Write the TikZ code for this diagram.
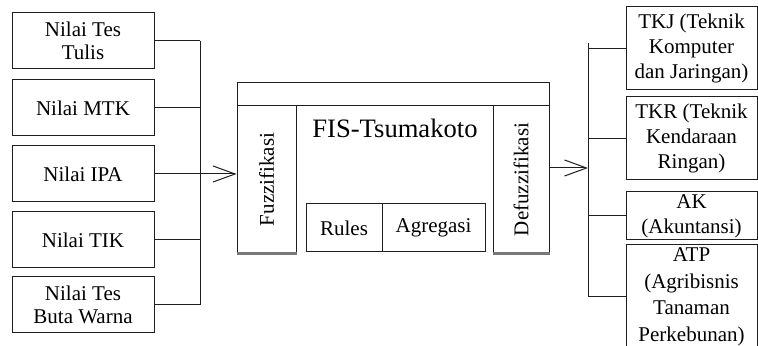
\documentclass[tikz,border=0pt]{standalone}
\usepackage{fontspec}
\setmainfont{Liberation Serif}
\usepackage{tikz}
\usetikzlibrary{positioning, arrows.meta}
\definecolor{fisline}{RGB}{30, 30, 30}
\definecolor{fisshade}{RGB}{120, 120, 120}
\tikzset{
    inbox/.style={rectangle, draw=fisline, line width=0.5pt, minimum width=71pt, minimum height=28pt, inner sep=1pt, align=center, font=\fontsize{10.5}{11.5}\selectfont},
    outbox/.style={rectangle, draw=fisline, line width=0.5pt, minimum width=65.5pt, inner sep=1pt, align=center, font=\fontsize{10.5}{12.5}\selectfont},
    fisbox/.style={rectangle, draw=fisline, line width=0.5pt, inner sep=0pt, font=\fontsize{10.5}{12}\selectfont},
    wire/.style={draw=fisline, line width=0.5pt},
    shade/.style={draw=fisshade, line width=1.3pt}
}

\begin{document}
\begin{tikzpicture}[x=0.5pt, y=-0.5pt]
                    \useasboundingbox (0,0) rectangle (758,346);
                    \clip (0,0) rectangle (758,346);

                    % inputs
                    \node[inbox] (tulis) at (83,41) {Nilai Tes\\Tulis};
                    \node[inbox] (mtk) at (83,108) {Nilai MTK};
                    \node[inbox] (ipa) at (83,174) {Nilai IPA};
                    \node[inbox] (tik) at (83,240) {Nilai TIK};
                    \node[inbox] (buta) at (83,305) {Nilai Tes\\Buta Warna};

                    % FIS block
                    \node[fisbox, minimum width=156pt, minimum height=11.5pt] (bar) at (393,94.5) {};
                    \node[fisbox, minimum width=29.5pt, minimum height=73.5pt] (fuzz) at (266.5,179.5) {};
                    \node[fisbox, minimum width=28pt, minimum height=73.5pt] (defuzz) at (521,179.5) {};
                    \node[fisbox, minimum width=38pt, minimum height=24pt] (rules) at (344,228) {Rules};
                    \node[fisbox, minimum width=51.5pt, minimum height=24pt] (agregasi) at (433.5,228) {Agregasi};
                    \node[rotate=90, font=\fontsize{10.5}{12}\selectfont] (fuzztxt) at (fuzz) {Fuzzifikasi};
                    \node[rotate=90, font=\fontsize{10.5}{12}\selectfont] (defuzztxt) at (defuzz) {Defuzzifikasi};
                    \node[font=\fontsize{13.3}{15}\selectfont] (fis) at (395,128) {FIS-Tsumakoto};
                    \draw[shade] (fuzz.south west) -- (fuzz.south east);
                    \draw[shade] (defuzz.south west) -- (defuzz.south east);

                    % outputs
                    \node[outbox, minimum height=41.5pt] (tkj) at (691.5,48.5) {TKJ (Teknik\\Komputer\\dan Jaringan)};
                    \node[outbox, minimum height=41.5pt] (tkr) at (691.5,138.5) {TKR (Teknik\\Kendaraan\\Ringan)};
                    \node[outbox, minimum height=24pt] (ak) at (691.5,216) {AK\\(Akuntansi)};
                    \node[outbox, minimum height=52pt, font=\fontsize{10.5}{13.3}\selectfont] (atp) at (691.5,297) {ATP\\(Agribisnis\\Tanaman\\Perkebunan)};

                    % input bus
                    \coordinate (lbus) at (200,0);
                    \draw[wire] (tulis.east -| lbus) -- (buta.east -| lbus);
                    \draw[wire] (tulis.east) -- (tulis.east -| lbus);
                    \draw[wire] (mtk.east) -- (mtk.east -| lbus);
                    \draw[wire] (tik.east) -- (tik.east -| lbus);
                    \draw[wire] (buta.east) -- (buta.east -| lbus);
                    \draw[wire, -{Straight Barb[length=11pt, width=8pt]}] (ipa.east) -- (ipa.east -| fuzz.west);

                    % output bus
                    \coordinate (rtop) at (588,43);
                    \coordinate (rmid) at (588,168);
                    \draw[wire] (rtop) -- (atp.west -| rtop);
                    \draw[wire, -{Straight Barb[length=11pt, width=8pt]}] (defuzz.east |- rmid) -- (rmid);
                    \draw[wire] (tkj.west -| rtop) -- (tkj.west);
                    \draw[wire] (tkr.west -| rtop) -- (tkr.west);
                    \draw[wire] (ak.west -| rtop) -- (ak.west);
                    \draw[wire] (atp.west -| rtop) -- (atp.west);
                \end{tikzpicture}
\end{document}
